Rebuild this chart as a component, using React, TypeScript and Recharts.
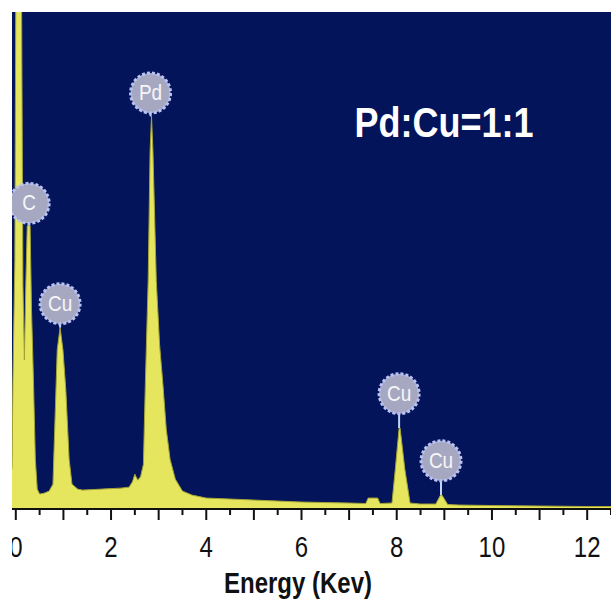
import {
  ComposedChart,
  Area,
  XAxis,
  YAxis,
  CartesianGrid,
  ReferenceLine,
  ReferenceDot,
} from 'recharts';

// EDS spectrum, Pd:Cu = 1:1
const energy = [
  -0.08, -0.06, -0.02, 0.0, 0.12, 0.15, 0.18, 0.21, 0.24, 0.3, 0.33, 0.37, 0.41, 0.45, 0.5,
  0.6, 0.7, 0.78, 0.83, 0.87, 0.93, 0.99, 1.05, 1.12, 1.18, 1.3, 1.4, 1.6, 1.8, 2.0, 2.2,
  2.38, 2.45, 2.5, 2.56, 2.62, 2.68, 2.72, 2.78, 2.82, 2.85, 2.88, 2.95, 3.02, 3.09, 3.16,
  3.24, 3.35, 3.5, 3.7, 4.0, 4.5, 5.0, 5.5, 6.0, 6.5, 7.0, 7.35, 7.4, 7.6, 7.65, 7.9, 7.97,
  8.05, 8.07, 8.17, 8.28, 8.5, 8.82, 8.92, 8.95, 9.07, 9.3, 10.0, 11.0, 12.0, 12.5,
];
const counts = [
  8, 26, 50, 104, 104, 45, 30, 45, 57, 57, 40, 26, 10, 4, 3,
  3.2, 3.6, 5, 20, 32, 36.5, 32, 24, 10, 5, 4, 3.8, 3.9, 4.0, 4.1, 4.2,
  4.4, 5.5, 7, 5.8, 6.5, 9, 25, 46, 72, 79, 72, 46, 33, 25, 16,
  10, 6, 3.6, 2.8, 2.2, 2.0, 1.8, 1.6, 1.4, 1.3, 1.2, 1.1, 2.2, 2.2, 1.1, 1.2, 8,
  16.3, 16.3, 8, 1.2, 1.0, 1.0, 2.8, 2.8, 0.9, 0.8, 0.7, 0.6, 0.5, 0.5,
];

// peak labels
const peakNames = ['C', 'Cu', 'Pd', 'Cu', 'Cu'];
const peakEnergy = [0.28, 0.93, 2.83, 8.05, 8.93];
const peakTop = [57, 36.5, 79, 16.3, 2.8];
const labelHeight = [61.5, 41.3, 83.7, 23.2, 9.7];

const tickValues = [
  0, 0.5, 1, 1.5, 2, 2.5, 3, 3.5, 4, 4.5, 5, 5.5, 6, 6.5, 7, 7.5, 8, 8.5, 9, 9.5, 10, 10.5,
  11, 11.5, 12, 12.5,
];

const data = energy.map((e, i) => ({ energy: e, counts: counts[i] }));

const FONT = '"Liberation Sans", Arial, sans-serif';

const EnergyTick = ({ x, y, payload }: any) => {
  const v = payload.value;
  const whole = Number.isInteger(v);
  return (
    <g>
      <line x1={x} x2={x} y1={y} y2={y + (whole ? 11 : 6)} stroke="#111" strokeWidth={2} />
      {whole && v % 2 === 0 && v <= 12 && (
        <text
          transform={`translate(${x},${y + 48}) scale(1,1.2)`}
          textAnchor="middle"
          fontFamily={FONT}
          fontSize={24}
          fill="#111"
        >
          {v}
        </text>
      )}
    </g>
  );
};

const peakLabel = (name: string) => (p: any) => (
  <g>
    <circle
      cx={p.cx}
      cy={p.cy}
      r={20}
      fill="#a6a8c2"
      stroke="#b8c2f4"
      strokeWidth={3}
      strokeDasharray="3 2"
    />
    <text
      transform={`translate(${p.cx},${p.cy + 7}) scale(1,1.2)`}
      textAnchor="middle"
      fontFamily={FONT}
      fontSize={19}
      fill="#f6f6f6"
    >
      {name}
    </text>
  </g>
);

export default function App() {
  return (
    <div style={{ position: 'absolute', left: 0, top: 0, width: 611, height: 599, background: '#fff' }}>
      <ComposedChart
        width={611}
        height={599}
        data={data}
        margin={{ top: 12, right: 0, left: 12, bottom: 30 }}
      >
        <CartesianGrid horizontal={false} vertical={false} fill="#03145a" stroke="none" />
        <XAxis
          dataKey="energy"
          type="number"
          domain={[-0.08, 12.5]}
          allowDataOverflow
          ticks={tickValues}
          interval={0}
          height={60}
          tickLine={false}
          tickSize={0}
          tickMargin={0}
          tick={EnergyTick}
          axisLine={{ stroke: '#111', strokeWidth: 2 }}
          label={{
            content: ({ viewBox }: any) => (
              <text
                transform={`translate(${viewBox.x + 286},${viewBox.y + 84}) scale(1,1.2)`}
                textAnchor="middle"
                fontFamily={FONT}
                fontWeight="bold"
                fontSize={24}
                fill="#111"
              >
                Energy (Kev)
              </text>
            ),
          }}
        />
        <YAxis
          type="number"
          domain={[0, 100]}
          allowDataOverflow
          width={0}
          tick={false}
          tickLine={false}
          axisLine={{ stroke: '#333', strokeWidth: 1.5 }}
        />
        <Area
          type="linear"
          dataKey="counts"
          fill="#e6e65e"
          fillOpacity={1}
          stroke="#a3a334"
          strokeWidth={1}
          isAnimationActive={false}
        />
        {peakNames.map((name, i) => (
          <ReferenceLine
            key={`stem-${i}`}
            segment={[
              { x: peakEnergy[i], y: peakTop[i] },
              { x: peakEnergy[i], y: labelHeight[i] },
            ]}
            stroke="#c4d6f2"
            strokeWidth={2}
          />
        ))}
        {peakNames.map((name, i) => (
          <ReferenceDot
            key={`dot-${i}`}
            x={peakEnergy[i]}
            y={labelHeight[i]}
            r={20}
            shape={peakLabel(name)}
          />
        ))}
        <text
          transform="translate(444,137) scale(1,1.18)"
          textAnchor="middle"
          fontFamily={FONT}
          fontWeight="bold"
          fontSize={36}
          fill="#ffffff"
        >
          Pd:Cu=1:1
        </text>
      </ComposedChart>
      <div style={{ position: 'absolute', left: 0, top: 0, width: 12, height: 599, background: '#fff' }} />
    </div>
  );
}
